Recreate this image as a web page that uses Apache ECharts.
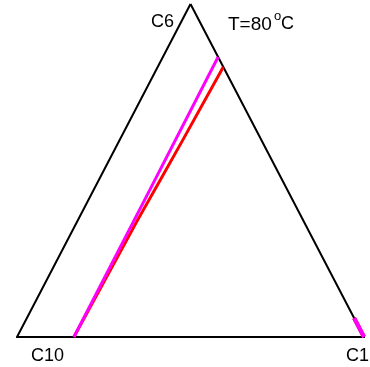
<!DOCTYPE html>
<html><head><meta charset="utf-8">
<script src="https://cdn.jsdelivr.net/npm/echarts@6/dist/echarts.min.js"></script>
<style>html,body{margin:0;padding:0;background:#fff}#c{width:370px;height:367px}</style>
</head><body><div id="c"></div>
<script>
// Ternary compositions (fractions): C6 (top), C1 (bottom-right); C10 = 1 - C6 - C1
var vertexNames = ['C6', 'C10', 'C1'];
var frameC6 = [1, 0, 0, 1];
var frameC1 = [0, 0, 1, 0];
var redC6 = [0, 0.351, 0.471, 0.592, 0.811];
var redC1 = [0.164, 0.172, 0.177, 0.182, 0.189];
var magentaC6 = [0, 0.411, 0.841];
var magentaC1 = [0.164, 0.162, 0.159];
var redTailC6 = [0.057, 0];
var redTailC1 = [0.943, 1];
var magentaTailC6 = [0.057, 0];
var magentaTailC1 = [0.943, 1];
var title = 'T=80';

function toXY(c6, c1) {
  return c6.map(function (v, i) { return [c1[i] + 0.5 * v, v]; });
}
var chart = echarts.init(document.getElementById('c'), null, {renderer: 'canvas'});
var F = 'Liberation Sans, Arial, sans-serif';
function lineSeries(data, color, w, z) {
  return {type: 'line', data: data, symbol: 'none', animation: false, z: z,
    lineStyle: {color: color, width: w, join: 'miter'}, silent: true};
}
chart.setOption({
  animation: false,
  grid: {left: 17, right: 6, top: 4, bottom: 30},
  xAxis: {type: 'value', min: 0, max: 1, show: false},
  yAxis: {type: 'value', min: 0, max: 1, show: false},
  series: [
    lineSeries(toXY(frameC6, frameC1), '#000', 2, 1),
    lineSeries(toXY(redC6, redC1), '#ff0000', 3, 2),
    lineSeries(toXY(redTailC6, redTailC1), '#ff0000', 4, 2),
    lineSeries(toXY(magentaC6, magentaC1), '#ff00ff', 3, 3),
    lineSeries(toXY(magentaTailC6, magentaTailC1), '#ff00ff', 4, 3)
  ],
  graphic: [
    {type: 'text', left: 151, top: 13, style: {text: vertexNames[0], font: '18px ' + F, fill: '#000'}},
    {type: 'text', left: 31, top: 347, style: {text: vertexNames[1], font: '18px ' + F, fill: '#000'}},
    {type: 'text', left: 346, top: 347, style: {text: vertexNames[2], font: '18px ' + F, fill: '#000'}},
    {type: 'text', left: 228, top: 15, style: {text: title, font: '19px ' + F, fill: '#000'}},
    {type: 'text', left: 274, top: 10, style: {text: 'o', font: '13px ' + F, fill: '#000'}},
    {type: 'text', left: 281, top: 15, style: {text: 'C', font: '18px ' + F, fill: '#000'}}
  ]
});
</script></body></html>
